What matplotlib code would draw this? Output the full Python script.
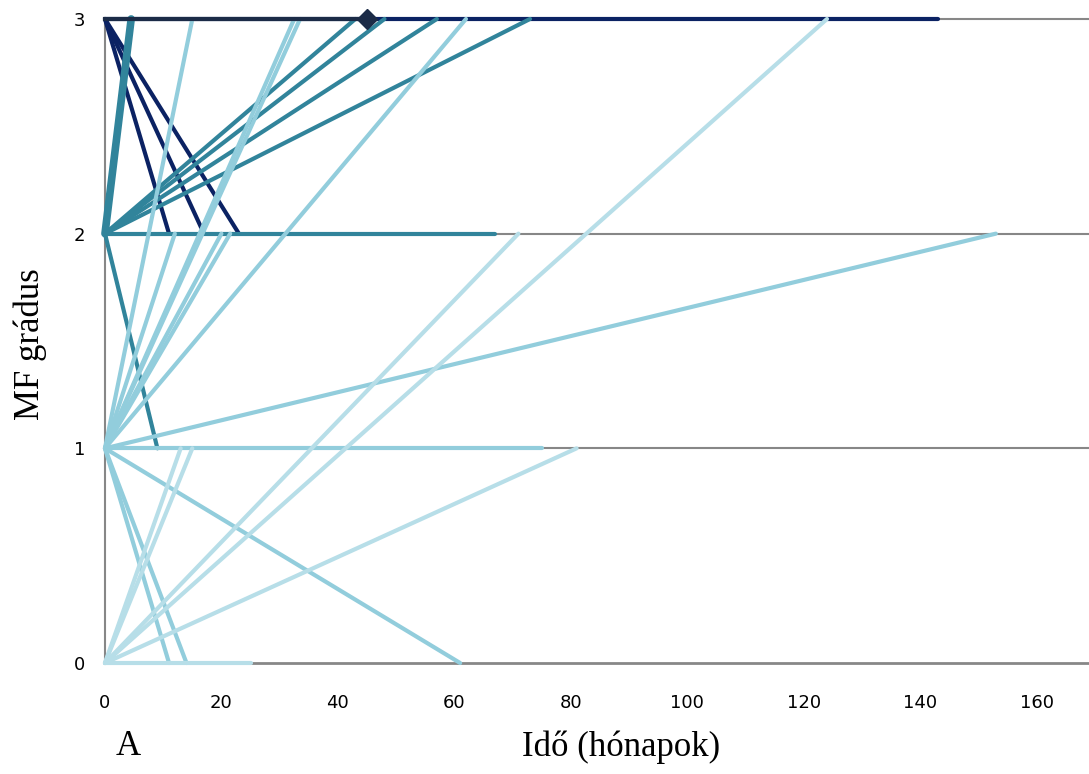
import matplotlib
matplotlib.use("Agg")
import matplotlib.pyplot as plt

# grade changes: every line runs from (0, start grade) to (months, end grade)
# start grade 3
g3_end = [3, 2, 2, 2]
g3_month = [143, 11, 17, 23]
# start grade 2
g2_end = [2, 3, 3, 3, 3, 3, 1]
g2_month = [67, 43, 48, 57, 73, 4.5, 9]
# start grade 1
g1_end = [1, 2, 3, 2, 3, 3, 2, 2, 3, 0, 0, 0]
g1_month = [75, 153, 15, 12, 32.5, 33.5, 20, 21.5, 62, 11, 14, 61]
# start grade 0
g0_end = [0, 1, 1, 1, 2, 3]
g0_month = [25, 13, 15, 81, 71, 124]
# highlighted point
mark_month = 45
mark_grade = 3

x_ticks = [0, 20, 40, 60, 80, 100, 120, 140, 160]
y_ticks = [0, 1, 2, 3]

c_navy = '#0b2263'
c_teal = '#31849b'
c_light = '#92cddc'
c_lighter = '#b7dee8'
c_mark = '#1b2b47'
c_grid = '#878787'

fig = plt.figure(figsize=(10.89, 7.74), dpi=100)
ax = fig.add_axes([0.0964, 0.1434, 0.9036, 0.8321])

lw = 3.0
for start, ends, months, col in [(3, g3_end, g3_month, c_navy),
                                 (2, g2_end, g2_month, c_teal),
                                 (1, g1_end, g1_month, c_light),
                                 (0, g0_end, g0_month, c_lighter)]:
    for e, m in zip(ends, months):
        w = lw
        # the steep 2 -> 3 line is drawn wider in the original
        if start == 2 and m < 5:
            w = 5.5
        ax.plot([0, m], [start, e], color=col, lw=w,
                solid_capstyle='round', clip_on=False, zorder=3)

ax.plot([0, mark_month], [mark_grade, mark_grade], color=c_mark, lw=lw,
        clip_on=False, zorder=4)
ax.plot([mark_month], [mark_grade], marker='D', ms=10, color=c_mark,
        clip_on=False, zorder=5)

ax.set_xlim(0, 169)
ax.set_ylim(0, 3)
for y in y_ticks[1:]:
    ax.axhline(y, color=c_grid, lw=1.5, zorder=1, clip_on=False)

for s in ['top', 'right']:
    ax.spines[s].set_visible(False)
ax.spines['left'].set_color(c_grid)
ax.spines['left'].set_linewidth(1.5)
ax.spines['bottom'].set_color(c_grid)
ax.spines['bottom'].set_linewidth(2)
ax.spines['left'].set_zorder(0)

tick_font = ['Liberation Sans Narrow', 'DejaVu Sans']
ax.set_xticks(x_ticks)
ax.set_yticks(y_ticks)
ax.set_xticklabels([str(v) for v in x_ticks], family=tick_font, fontsize=13)
ax.set_yticklabels([str(v) for v in y_ticks], family=tick_font, fontsize=13)
ax.tick_params(length=0)
ax.tick_params(axis='x', pad=22)
ax.tick_params(axis='y', pad=14)

fig.text(0.028, 0.555, 'MF grádus', rotation=90, ha='center', va='center',
         family='Liberation Serif', fontsize=25)
fig.text(0.57, 0.035, 'Idő (hónapok)', ha='center', va='center',
         family='Liberation Serif', fontsize=25)
fig.text(0.118, 0.035, 'A', ha='center', va='center',
         family='Liberation Serif', fontsize=25)

fig.savefig('out.png', dpi=100)
